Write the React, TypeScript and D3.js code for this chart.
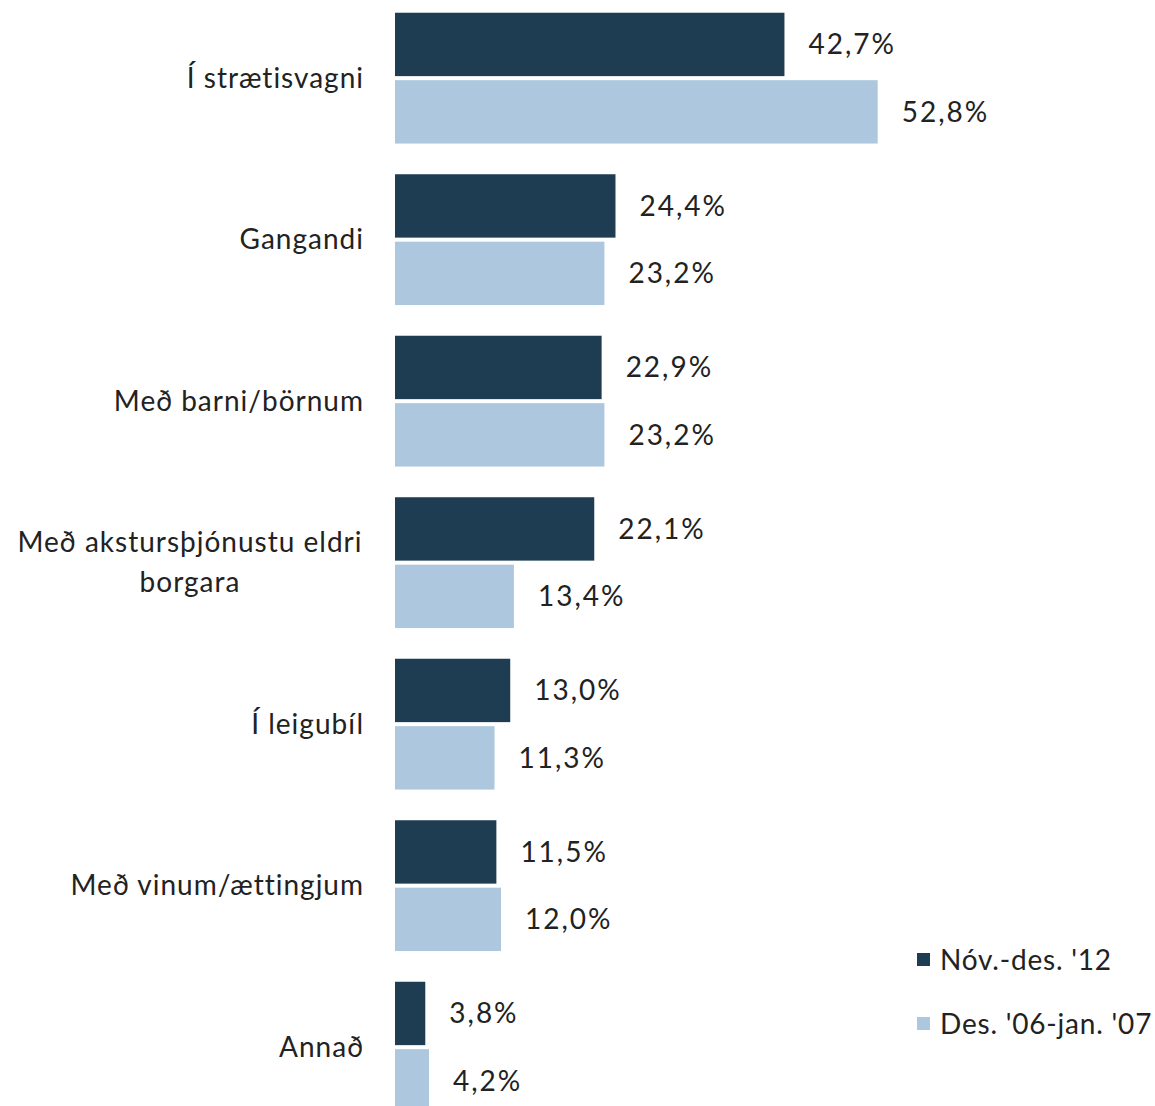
import React from "react";
import * as d3 from "d3";

const categories: string[][] = [
  ["Í strætisvagni"],
  ["Gangandi"],
  ["Með barni/börnum"],
  ["Með akstursþjónustu eldri", "borgara"],
  ["Í leigubíl"],
  ["Með vinum/ættingjum"],
  ["Annað"],
];
const seriesNames = ["Nóv.-des. '12", "Des. '06-jan. '07"];
const series2012 = [42.7, 24.4, 22.9, 22.1, 13.0, 11.5, 3.8];
const series2006 = [52.8, 23.2, 23.2, 13.4, 11.3, 12.0, 4.2];
const colors = ["#1F3D52", "#ADC8DE"];

const W = 1155;
const H = 1106;
const FONT = "Lato, 'Open Sans', sans-serif";

export default function App() {
  const keys = categories.map((c) => c.join(" "));
  const y0 = d3
    .scaleBand<string>()
    .domain(keys)
    .range([-2.6, 1127.9])
    .paddingInner(0.19)
    .paddingOuter(0.095);
  const y1 = d3
    .scaleBand<string>()
    .domain(seriesNames)
    .range([0, y0.bandwidth()])
    .paddingInner(0.06);
  const x = d3.scaleLinear().domain([0, 60]).range([390.2, 390.2 + 60 * 9.233]);
  const data = [series2012, series2006];
  const fmt = (v: number) => v.toFixed(1).replace(".", ",") + "%";

  return (
    <svg
      width={W}
      height={H}
      style={{ position: "absolute", left: 0, top: 0, background: "#fff" }}
      fontFamily={FONT}
    >
      <defs>
        <clipPath id="plotClip">
          <rect x={395} y={0} width={W - 395} height={H} />
        </clipPath>
      </defs>
      {keys.map((k, i) => {
        const gy = y0(k)!;
        const lines = categories[i];
        const cy = gy + y0.bandwidth() / 2;
        const lh = 40;
        return (
          <g key={k}>
            {seriesNames.map((s, j) => {
              const v = data[j][i];
              const by = gy + y1(s)!;
              return (
                <g key={s}>
                  <rect
                    x={x(0)}
                    y={by}
                    width={x(v) - x(0)}
                    height={y1.bandwidth()}
                    fill={colors[j]}
                    clipPath="url(#plotClip)"
                  />
                  <text
                    x={x(v) + 24}
                    y={by + y1.bandwidth() / 2}
                    dy="0.35em"
                    fontSize={28}
                    letterSpacing={2}
                    fill="#222"
                  >
                    {fmt(v)}
                  </text>
                </g>
              );
            })}
            {lines.length === 1 ? (
              <text
                x={364}
                y={cy}
                dy="0.35em"
                textAnchor="end"
                fontSize={28}
                letterSpacing={1}
                fill="#222"
              >
                {lines[0]}
              </text>
            ) : (
              lines.map((l, li) => (
                <text
                  key={li}
                  x={190}
                  y={cy + (li - (lines.length - 1) / 2) * lh}
                  dy="0.35em"
                  textAnchor="middle"
                  fontSize={28}
                  letterSpacing={1}
                  fill="#222"
                >
                  {l}
                </text>
              ))
            )}
          </g>
        );
      })}
      {seriesNames.map((s, j) => (
        <g key={s} transform={`translate(917, ${960 + j * 64})`}>
          <rect x={0} y={-7} width={13} height={13} fill={colors[j]} />
          <text x={23} y={0} dy="0.35em" fontSize={28} letterSpacing={0.8} fill="#222">
            {s}
          </text>
        </g>
      ))}
    </svg>
  );
}
